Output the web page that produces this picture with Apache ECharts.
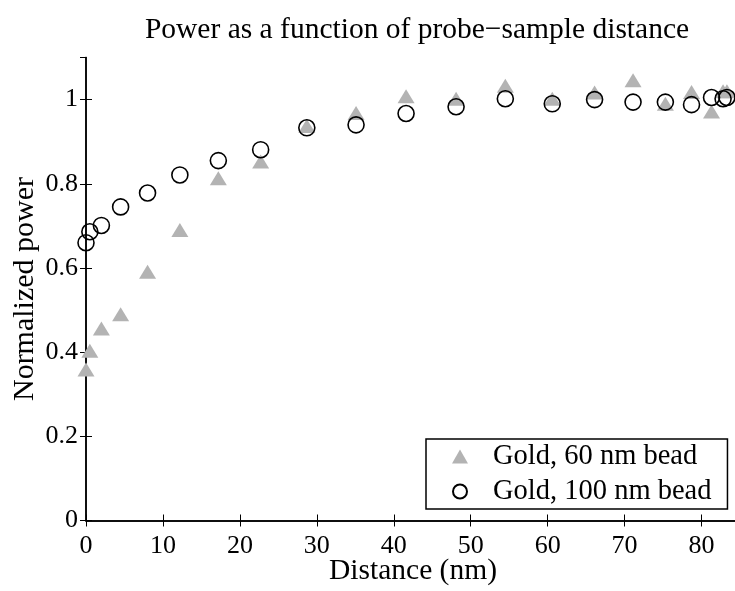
<!DOCTYPE html>
<html>
<head>
<meta charset="utf-8">
<script src="https://cdn.jsdelivr.net/npm/echarts@6/dist/echarts.min.js"></script>
<style>html,body{margin:0;padding:0;background:#fff;}#c{width:735px;height:591px;}</style>
</head>
<body>
<div id="c"></div>
<script>
const distance = [0, 0.5, 2.0, 4.5, 8.0, 12.2, 17.2, 22.7, 28.7, 35.1, 41.6, 48.1, 54.5, 60.6, 66.1, 71.1, 75.3, 78.7, 81.3, 82.8, 83.3];
const gold60 = [0.359, 0.403, 0.456, 0.490, 0.591, 0.690, 0.813, 0.853, 0.937, 0.968, 1.008, 1.002, 1.033, 1.002, 1.017, 1.046, 0.990, 1.018, 0.972, 1.020, 1.020];
const gold100 = [0.660, 0.686, 0.701, 0.745, 0.778, 0.821, 0.855, 0.881, 0.933, 0.940, 0.967, 0.983, 1.002, 0.990, 1.000, 0.994, 0.994, 0.988, 1.005, 1.002, 1.005];
const seriesNames = ['Gold, 60 nm bead', 'Gold, 100 nm bead'];
const titleText = 'Power as a function of probe\u2212sample distance';
const xName = 'Distance (nm)';
const yName = 'Normalized power';

const FONT = '"Liberation Serif", "Times New Roman", serif';
const pair = (xs, ys) => xs.map((x, i) => [x, ys[i]]);

const chart = echarts.init(document.getElementById('c'), null, {renderer: 'canvas'});
const axisLine = {show: true, lineStyle: {color: '#000', width: 1.5}};
const tick = {show: true, inside: true, length: 6, lineStyle: {color: '#000', width: 1}};
chart.setOption({
  animation: false,
  backgroundColor: '#fff',
  title: {
    text: titleText,
    left: 412, textAlign: 'center', top: 10,
    textStyle: {fontFamily: FONT, fontSize: 29.5, fontWeight: 'normal', color: '#000'}
  },
  grid: {left: 86, top: 57.5, width: 654, height: 463, containLabel: false, outerBoundsMode: 'none'},
  legend: {
    orient: 'vertical', left: 426, top: 439,
    padding: [3, 16, 3, 26], itemGap: 6,
    itemWidth: 16, itemHeight: 14,
    borderColor: '#000', borderWidth: 1.5, backgroundColor: '#fff',
    textStyle: {fontFamily: FONT, fontSize: 28.5, color: '#000', padding: [0, 0, 0, 20]},
    data: seriesNames
  },
  xAxis: [{
    type: 'value', min: 0, max: 85, interval: 10, position: 'bottom',
    name: xName, nameLocation: 'middle', nameGap: 36, nameMoveOverlap: false,
    nameTextStyle: {fontFamily: FONT, fontSize: 29.5, color: '#000'},
    axisLine, axisTick: tick, splitLine: {show: false},
    axisLabel: {fontFamily: FONT, fontSize: 26, color: '#000', margin: 13, showMaxLabel: false,
      formatter: v => (v % 10 === 0 ? String(v) : '')}
  }, {
    type: 'value', min: 0, max: 85, interval: 10, position: 'top',
    axisLine, axisTick: tick, splitLine: {show: false}, axisLabel: {show: false}
  }],
  yAxis: [{
    type: 'value', min: 0, max: 1.1, interval: 0.2, position: 'left',
    name: yName, nameLocation: 'middle', nameGap: 46, nameRotate: 90, nameMoveOverlap: false,
    nameTextStyle: {fontFamily: FONT, fontSize: 30, color: '#000'},
    axisLine, axisTick: tick, splitLine: {show: false},
    axisLabel: {fontFamily: FONT, fontSize: 26, color: '#000', margin: 8, showMaxLabel: false,
      formatter: v => (v === 0 ? '0' : (Math.abs(v - 1) < 1e-9 ? '1' : (v > 1.05 ? '' : v.toFixed(1))))}
  }, {
    type: 'value', min: 0, max: 1.1, interval: 0.2, position: 'right',
    axisLine, axisTick: tick, splitLine: {show: false}, axisLabel: {show: false}
  }],
  series: [{
    name: seriesNames[0], type: 'scatter', xAxisIndex: 0, yAxisIndex: 0,
    symbol: 'triangle', symbolSize: [17, 14],
    itemStyle: {color: '#b3b3b3', opacity: 1},
    emphasis: {disabled: true},
    data: pair(distance, gold60), z: 2
  }, {
    name: seriesNames[1], type: 'scatter', xAxisIndex: 0, yAxisIndex: 0,
    symbol: 'circle', symbolSize: 16,
    itemStyle: {color: 'rgba(255,255,255,0)', borderColor: '#000', borderWidth: 1.6, opacity: 1},
    emphasis: {disabled: true},
    data: pair(distance, gold100), z: 3
  }]
});
</script>
</body>
</html>
